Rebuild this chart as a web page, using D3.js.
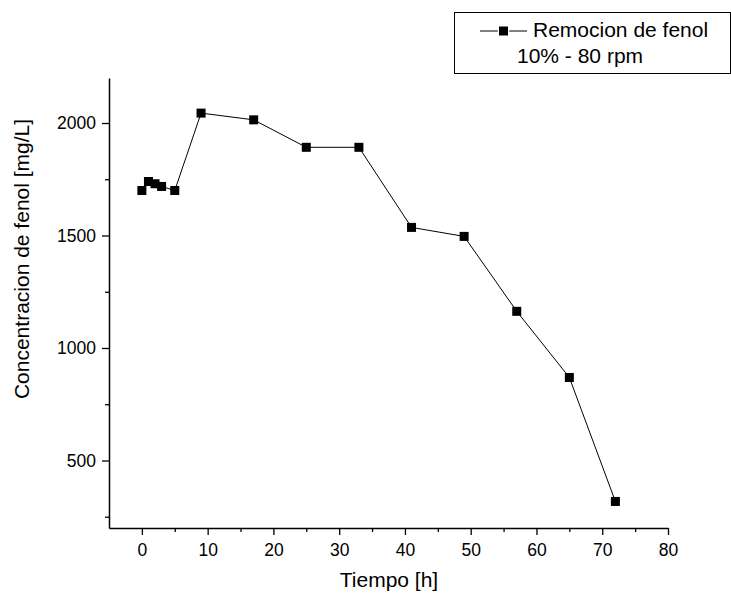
<!DOCTYPE html>
<html lang="en">
<head>
<meta charset="utf-8">
<title>Remocion de fenol</title>
<script src="https://d3js.org/d3.v7.min.js"></script>
<style>
    body { margin: 0; background: white; }
    svg text { font-family: "Liberation Sans", Arial, sans-serif; fill: black; }
</style>
</head>
<body>
<svg id="chart" width="731" height="594"></svg>
<script>

    // data
    var tiempo = [0, 1, 2, 3, 5, 9, 17, 25, 33, 41, 49, 57, 65, 72];
    var fenol = [1700, 1740, 1730, 1718, 1700, 2044, 2014, 1892, 1892, 1536, 1496, 1163, 869, 318];
    var xMajor = [0, 10, 20, 30, 40, 50, 60, 70, 80];
    var xMinor = [5, 15, 25, 35, 45, 55, 65, 75];
    var yMajor = [500, 1000, 1500, 2000];
    var yMinor = [250, 750, 1250, 1750];
    var legendLines = ["Remocion de fenol", "10% - 80 rpm"];

    var svg = d3.select("#chart");

    var x = d3.scaleLinear().domain([-5, 80]).range([109, 668]);
    var y = d3.scaleLinear().domain([200, 2200]).range([528, 78]);

    // x axis
    var xAxis = svg.append("g").attr("transform", "translate(0,528)");
    xAxis.call(d3.axisBottom(x).tickValues(xMajor).tickSize(7).tickPadding(9)
        .tickSizeOuter(0).tickFormat(d3.format("d")));
    xAxis.append("g").call(d3.axisBottom(x).tickValues(xMinor).tickSize(4).tickFormat(""))
        .select(".domain").remove();

    // y axis
    var yAxis = svg.append("g").attr("transform", "translate(109,0)");
    yAxis.call(d3.axisLeft(y).tickValues(yMajor).tickSize(7).tickPadding(6)
        .tickSizeOuter(0).tickFormat(d3.format("d")));
    yAxis.append("g").call(d3.axisLeft(y).tickValues(yMinor).tickSize(4).tickFormat(""))
        .select(".domain").remove();

    svg.selectAll(".domain").attr("stroke", "black").attr("stroke-width", 1.5);
    svg.selectAll(".tick line").attr("stroke", "black").attr("stroke-width", 1.3);
    svg.selectAll(".tick text")
        .style("font-size", "17.5px")
        .style("font-family", "Liberation Sans, Arial, sans-serif");

    // axis titles
    svg.append("text")
        .attr("x", 389).attr("y", 587)
        .attr("text-anchor", "middle")
        .style("font-size", "21px")
        .text("Tiempo [h]");

    svg.append("text")
        .attr("transform", "translate(29,259) rotate(-90)")
        .attr("text-anchor", "middle")
        .style("font-size", "21px")
        .text("Concentracion de fenol [mg/L]");

    // line + markers
    var pts = tiempo.map(function (t, i) { return [t, fenol[i]]; });

    var line = d3.line().x(d => x(d[0])).y(d => y(d[1]));

    svg.append("path")
        .datum(pts)
        .attr("d", line)
        .attr("fill", "none")
        .attr("stroke", "black")
        .attr("stroke-width", 1);

    var ms = 9;
    svg.selectAll("rect.pt")
        .data(pts)
        .enter().append("rect")
        .attr("class", "pt")
        .attr("x", d => x(d[0]) - ms / 2)
        .attr("y", d => y(d[1]) - ms / 2)
        .attr("width", ms)
        .attr("height", ms)
        .attr("fill", "black");

    // legend
    var lg = svg.append("g");
    lg.append("rect")
        .attr("x", 454.5).attr("y", 12.5)
        .attr("width", 276).attr("height", 61)
        .attr("fill", "white")
        .attr("stroke", "black")
        .attr("stroke-width", 1);
    lg.append("line")
        .attr("x1", 480).attr("x2", 527)
        .attr("y1", 31).attr("y2", 31)
        .attr("stroke", "black").attr("stroke-width", 1);
    lg.append("rect")
        .attr("x", 499).attr("y", 26.5)
        .attr("width", ms).attr("height", ms)
        .attr("fill", "black")
        .attr("stroke", "white")
        .attr("stroke-width", 2.5)
        .attr("paint-order", "stroke");
    lg.append("text")
        .attr("x", 533).attr("y", 37)
        .style("font-size", "21px")
        .text(legendLines[0]);
    lg.append("text")
        .attr("x", 517).attr("y", 63)
        .style("font-size", "21px")
        .text(legendLines[1]);

</script>
</body>
</html>
